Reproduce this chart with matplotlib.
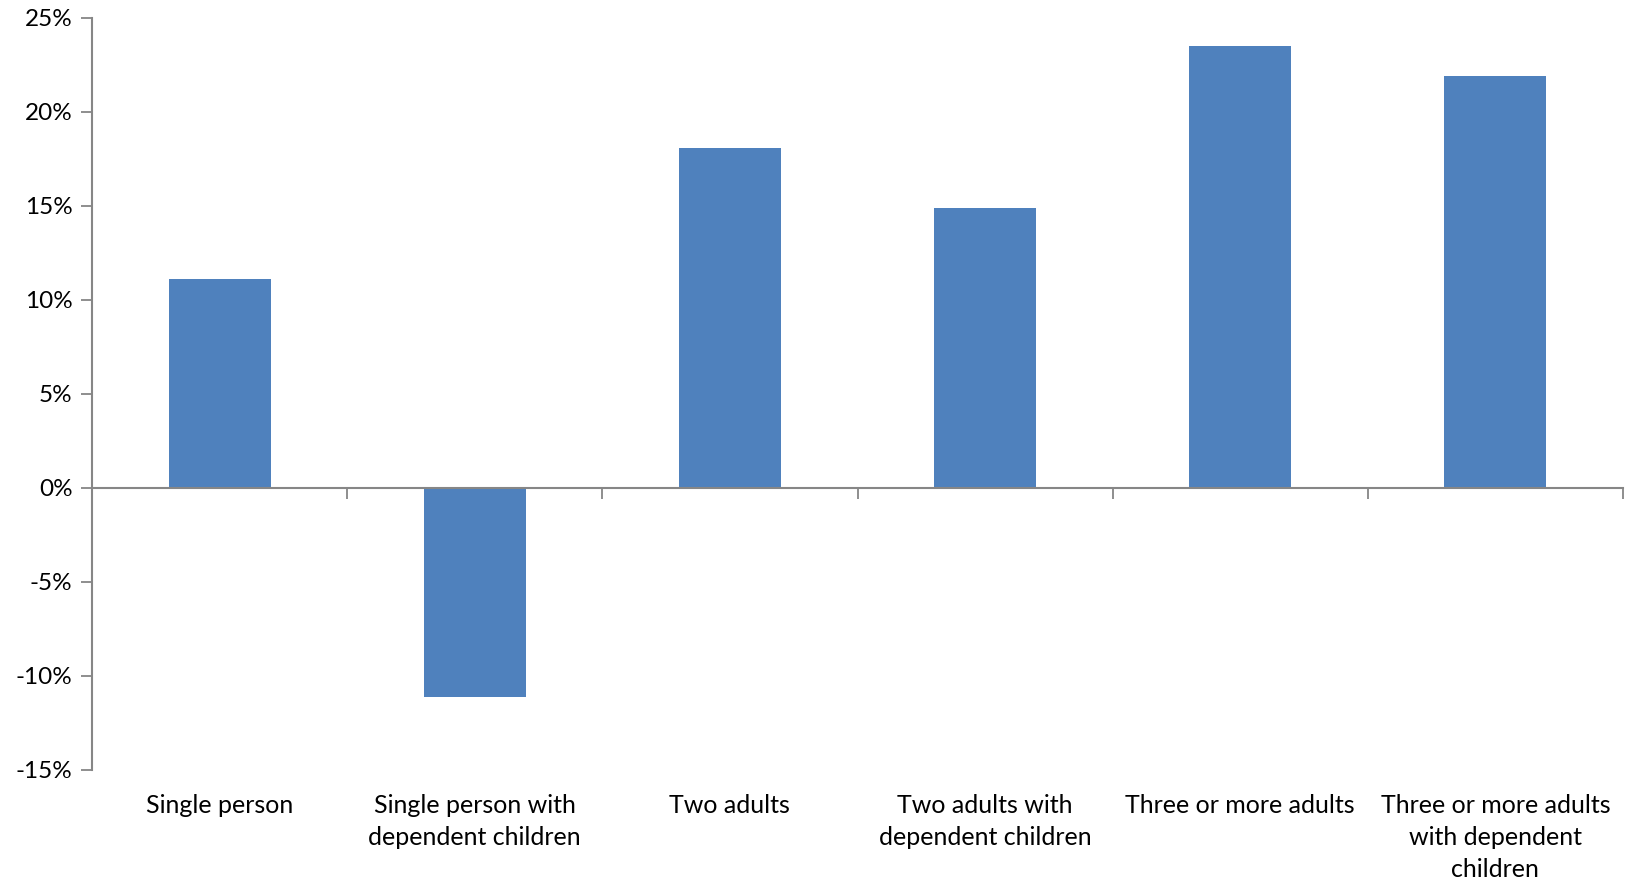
import matplotlib.pyplot as plt
from matplotlib.ticker import FuncFormatter
import matplotlib.transforms as mtransforms

# ----------------------------
# Data
# ----------------------------

categories = [
    "Single person",
    "Single person with\ndependent children",
    "Two adults",
    "Two adults with\ndependent children",
    "Three or more adults",
    "Three or more adults\nwith dependent\nchildren",
]

change_pct = [11.1, -11.1, 18.1, 14.9, 23.5, 21.9]

y_ticks = [-15, -10, -5, 0, 5, 10, 15, 20, 25]

bar_color = "#4F81BD"
axis_color = "#868686"

plt.rcParams["font.family"] = ["Lato", "DejaVu Sans"]

# ----------------------------
# Figure
# ----------------------------

fig = plt.figure(figsize=(16.28, 8.81), dpi=100)

ax = fig.add_axes([92 / 1628, 1 - 770 / 881, (1623 - 92) / 1628, (770 - 18) / 881])

x = list(range(len(categories)))

ax.bar(x, change_pct, width=0.4, color=bar_color, zorder=2)

ax.set_xlim(-0.5, len(categories) - 0.5)
ax.set_ylim(-15, 25)

ax.set_yticks(y_ticks)
ax.yaxis.set_major_formatter(FuncFormatter(lambda v, p: f"{v:.0f}%"))
ax.tick_params(axis="y", direction="out", length=8, width=1.3,
               color=axis_color, labelsize=17.5, pad=6, labelcolor="black")

# category axis sits on zero, ticks between categories
ax.spines["bottom"].set_position(("data", 0))
ax.set_xticks([i + 0.5 for i in range(-1, len(categories))])
ax.set_xticklabels([])
ax.tick_params(axis="x", direction="out", length=8, width=1.3, color=axis_color)

for side in ["top", "right"]:
    ax.spines[side].set_visible(False)
for side in ["left", "bottom"]:
    ax.spines[side].set_color(axis_color)
    ax.spines[side].set_linewidth(1.5)

# category labels below plot area
trans = mtransforms.blended_transform_factory(ax.transData, ax.transAxes)
for xi, label in zip(x, categories):
    ax.text(xi, -0.032, label, transform=trans, ha="center", va="top",
            fontsize=18, color="black", linespacing=1.47)

fig.savefig("out.png", dpi=100)
